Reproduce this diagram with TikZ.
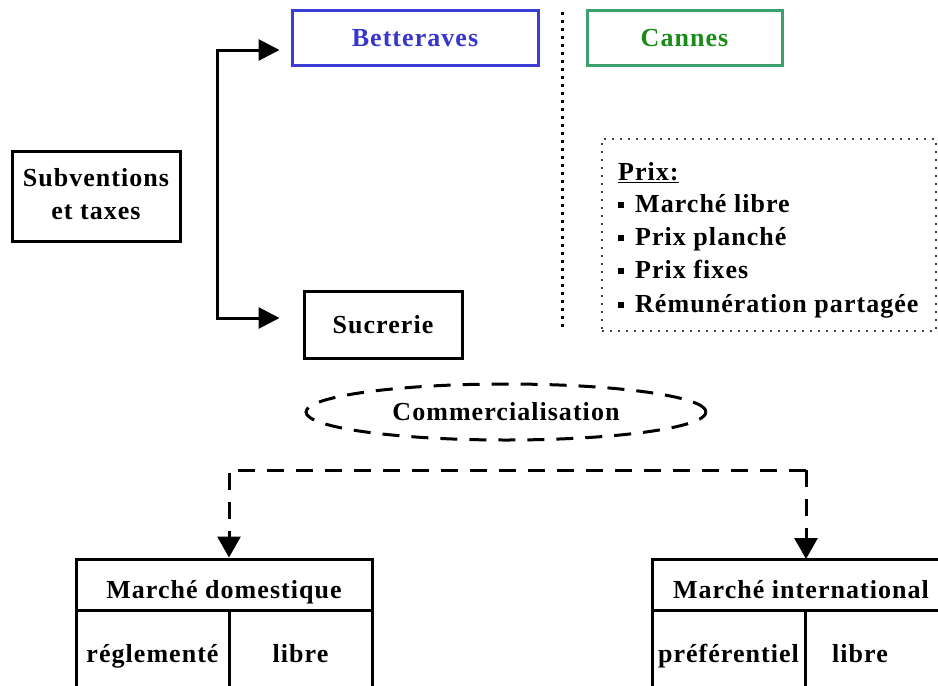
\documentclass[tikz,border=0pt]{standalone}
\usepackage{fontspec}
\setmainfont{Liberation Serif}[LetterSpace=4]
\usetikzlibrary{arrows.meta,shapes.geometric}
\definecolor{bblue}{RGB}{60,60,215}
\definecolor{btext}{RGB}{55,55,205}
\definecolor{gborder}{RGB}{60,160,110}
\definecolor{gtext}{RGB}{25,140,25}
\tikzset{
  txt/.style={font=\fontsize{26}{33}\selectfont\bfseries, inner sep=0pt},
  box/.style={txt, draw, line width=3pt, minimum width=#1, text height=17pt, text depth=0pt},
  frame/.style={draw, line width=3pt, minimum width=#1, inner sep=0pt},
  arr/.style={line width=3pt, -{Triangle[length=21pt,width=21pt]}},
  darr/.style={line width=3pt, dash pattern=on 17pt off 12pt, -{Triangle[length=21pt,width=23pt]}},
  vdot/.style={line width=3pt, dash pattern=on 3pt off 5pt},
  pdot/.style={draw=black!75, line width=2pt, dash pattern=on 2pt off 6pt}
}
\begin{document}
\begin{tikzpicture}[x=1pt,y=-1pt]
\useasboundingbox (0,0) rectangle (938,686);
\clip (0,0) rectangle (938,686);
\fill[white] (0,0) rectangle (938,686);
% top boxes
\node[frame=168pt, minimum height=90pt] (sub) at (96,196) {};
\node[txt, anchor=base] (subt1) at (96,186) {Subventions};
\node[txt, anchor=base] (subt2) at (96,219) {et taxes};
\node[box=246pt, minimum height=55pt, draw=bblue, text=btext] (bet) at (415,37.5) {Betteraves};
\node[box=195pt, minimum height=55pt, draw=gborder, text=gtext] (can) at (684.5,37.5) {Cannes};
\node[box=158pt, minimum height=67pt] (suc) at (383,324.5) {Sucrerie};
% bracket arrows
\coordinate (b1) at (217,50);
\coordinate (b2) at (217,318);
\draw[arr] (b2) -- (b1) -- ([xshift=-11pt]b1 -| bet.west);
\draw[arr] (b1) -- (b2) -- ([xshift=-23pt]b2 -| suc.west);
% dotted separator
\coordinate (v1) at (562,12);
\coordinate (v2) at (562,331);
\draw[vdot] (v1) -- (v2);
% prices box
\node[pdot, minimum width=334pt, minimum height=192pt, inner sep=0pt] (prix) at (769,235) {};
\node[txt, anchor=base west] (p0) at (618,180) {\underline{Prix:}};
\node[txt, anchor=base west] (p1) at (635,212) {Marché libre};
\node[txt, anchor=base west] (p2) at (635,245) {Prix planché};
\node[txt, anchor=base west] (p3) at (635,278) {Prix fixes};
\node[txt, anchor=base west] (p4) at (635,312) {Rémunération partagée};
\foreach \y/\n in {205/q1,238/q2,271/q3,305/q4}
  \node[fill=black, minimum size=6pt, inner sep=0pt] (\n) at (621,\y) {};
% commercialisation
\node[txt, ellipse, draw, line width=3pt, dash pattern=on 17pt off 12pt, minimum width=400pt, minimum height=56pt, text height=17pt, text depth=0pt] (com) at (506,412) {Commercialisation};
% dashed connector
\coordinate (dl) at (229,470);
\coordinate (dr) at (806,470);
% tables
\node[frame=296pt, minimum height=51pt] (dom) at (224,584.5) {};
\node[frame=153pt, minimum height=90pt] (reg) at (152.5,655) {};
\node[frame=143pt, minimum height=90pt] (lib1) at (300.5,655) {};
\node[frame=300pt, minimum height=51pt] (int) at (802,585) {};
\node[frame=153pt, minimum height=90pt] (pref) at (728.5,655) {};
\node[frame=147pt, minimum height=90pt] (lib2) at (878.5,655) {};
\node[txt, anchor=base] (domt) at (dom |- 0,598) {Marché domestique};
\node[txt, anchor=base] (regt) at (reg |- 0,662) {réglementé};
\node[txt, anchor=base] (lib1t) at (lib1 |- 0,662) {libre};
\node[txt, anchor=base] (intt) at (801,598) {Marché international};
\node[txt, anchor=base] (preft) at (pref |- 0,662) {préférentiel};
\node[txt, anchor=base] (lib2t) at (860,662) {libre};
\draw[darr] (dr) -- (dl) -- (dl |- dom.north);
\draw[darr] (dr) -- ([yshift=-1pt]dr |- int.north);
\end{tikzpicture}
\end{document}
